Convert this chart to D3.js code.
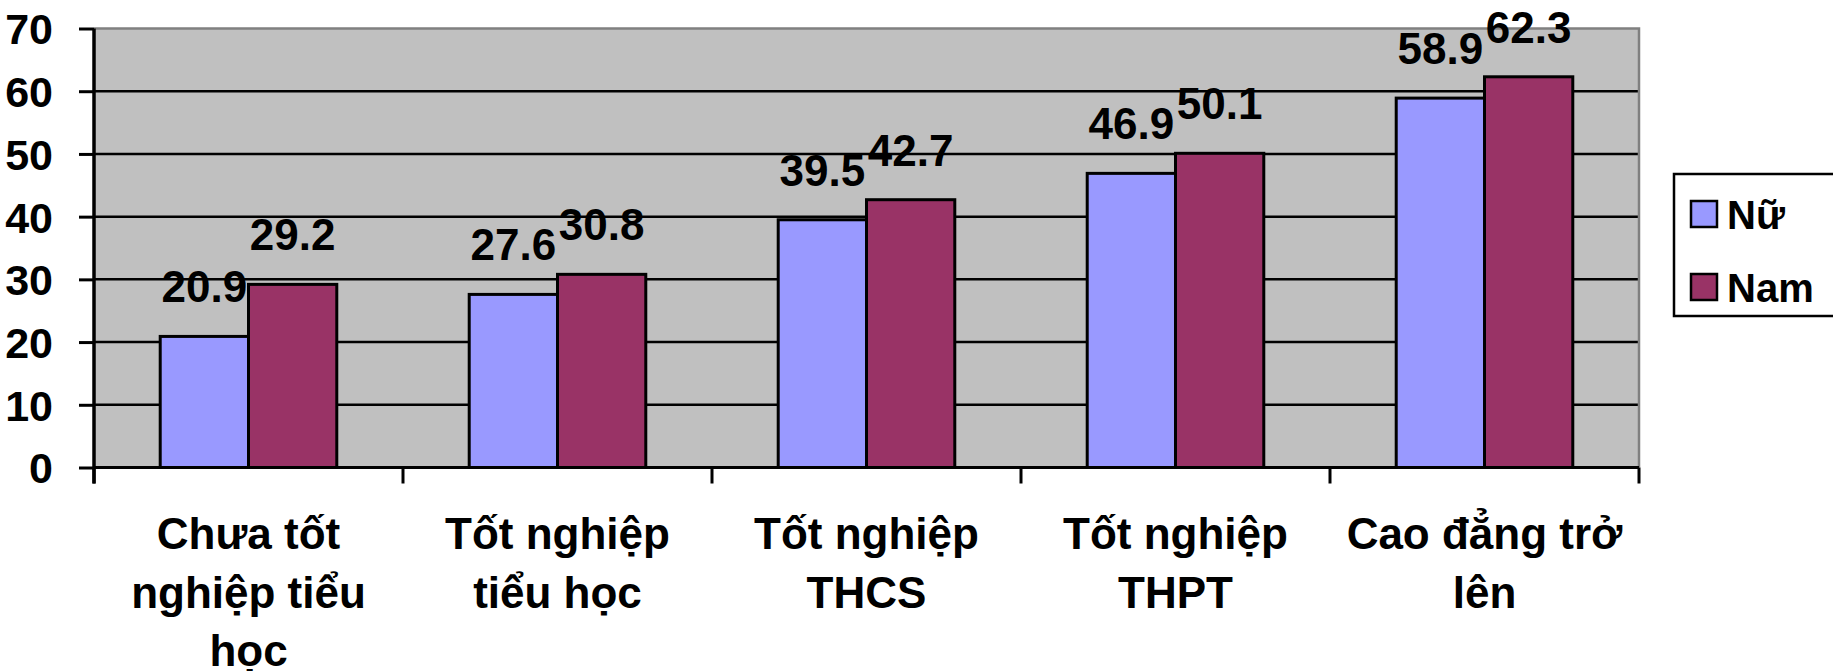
<!DOCTYPE html>
<html><head><meta charset="utf-8">
<script src="https://cdn.jsdelivr.net/npm/d3@7"></script>
<style>html,body{margin:0;padding:0;background:#fff;overflow:hidden}</style>
</head><body><svg id="c" width="1833" height="671"></svg>
<script>
const categories = ["Chưa tốt nghiệp tiểu học","Tốt nghiệp tiểu học","Tốt nghiệp THCS","Tốt nghiệp THPT","Cao đẳng trở lên"];
const categoryLines = [["Chưa tốt","nghiệp tiểu","học"],["Tốt nghiệp","tiểu học"],["Tốt nghiệp","THCS"],["Tốt nghiệp","THPT"],["Cao đẳng trở","lên"]];
const seriesNames = ["Nữ","Nam"];
const nu = [20.9,27.6,39.5,46.9,58.9];
const nam = [29.2,30.8,42.7,50.1,62.3];
const yTicks = [0,10,20,30,40,50,60,70];
const colors = ["#9999FF","#993366"];

const svg = d3.select("#c");
const font = "'Liberation Sans', Arial, sans-serif";
const L=94, R=1639, T=28.5, B=467.5;
const y = d3.scaleLinear().domain([0,70]).range([B,T]);
const x0 = d3.scaleBand().domain(categories).range([L,R]);
const x1 = d3.scaleBand().domain(seriesNames).range([0,x0.bandwidth()]).paddingOuter(0.75);
const values = [nu, nam];

// plot area
svg.append("rect").attr("x",L).attr("y",T).attr("width",R-L).attr("height",B-T).attr("fill","#C0C0C0");
// gridlines
svg.append("g").selectAll("line").data(yTicks.filter(t=>t>0&&t<70)).join("line")
  .attr("x1",L).attr("x2",R).attr("y1",d=>y(d)).attr("y2",d=>y(d))
  .attr("stroke","#000").attr("stroke-width",2.5);
// top/right border
svg.append("path").attr("d",`M${L},${T}H${R}V${B}`).attr("fill","none").attr("stroke","#808080").attr("stroke-width",2.5);

// bars
const g = svg.append("g");
categories.forEach((c,i)=>{
  seriesNames.forEach((s,j)=>{
    const v = values[j][i];
    g.append("rect").attr("x",x0(c)+x1(s)).attr("y",y(v)).attr("width",x1.bandwidth()).attr("height",y(0)-y(v))
      .attr("fill",colors[j]).attr("stroke","#000").attr("stroke-width",3);
  });
});
// labels
categories.forEach((c,i)=>{
  seriesNames.forEach((s,j)=>{
    const v = values[j][i];
    svg.append("text").attr("x",x0(c)+x1(s)+x1.bandwidth()/2).attr("y",y(v)-34)
      .attr("text-anchor","middle").attr("font-family",font).attr("font-weight","bold").attr("font-size",44)
      .text(v.toFixed(1));
  });
});

// y axis
const ya = svg.append("g").attr("transform",`translate(${L},0)`)
  .call(d3.axisLeft(y).tickValues(yTicks).tickSize(15).tickPadding(26).tickFormat(d3.format("d")));
ya.select(".domain").attr("stroke","#000").attr("stroke-width",3.5).attr("d",`M0,${T}V${B+16}`);
ya.selectAll(".tick line").attr("stroke","#000").attr("stroke-width",3);
ya.selectAll(".tick text").attr("font-family",font).attr("font-weight","bold").attr("font-size",43).attr("fill","#000").attr("dy","0.36em");

// x axis
const xa = svg.append("g").attr("transform",`translate(0,${B})`);
xa.append("line").attr("x1",L).attr("x2",R).attr("y1",0).attr("y2",0).attr("stroke","#000").attr("stroke-width",3);
const bounds = categories.map(c=>x0(c)).concat([R]);
xa.selectAll("line.t").data(bounds).join("line").attr("class","t")
  .attr("x1",d=>d).attr("x2",d=>d).attr("y1",0).attr("y2",16).attr("stroke","#000").attr("stroke-width",3);
categories.forEach((c,i)=>{
  const t = svg.append("text").attr("text-anchor","middle").attr("font-family",font).attr("font-weight","bold").attr("font-size",44);
  categoryLines[i].forEach((ln,k)=>{
    t.append("tspan").attr("x",x0(c)+x0.bandwidth()/2).attr("y",549+k*58.5).text(ln);
  });
});

// legend
const lg = svg.append("g");
lg.append("rect").attr("x",1674).attr("y",174).attr("width",180).attr("height",142).attr("fill","#fff").attr("stroke","#000").attr("stroke-width",2.5);
seriesNames.forEach((s,j)=>{
  lg.append("rect").attr("x",1691).attr("y",201+j*73).attr("width",26).attr("height",26).attr("fill",colors[j]).attr("stroke","#000").attr("stroke-width",2.5);
  lg.append("text").attr("x",1727).attr("y",229+j*73).attr("font-family",font).attr("font-weight","bold").attr("font-size",40).text(s);
});
</script></body></html>
